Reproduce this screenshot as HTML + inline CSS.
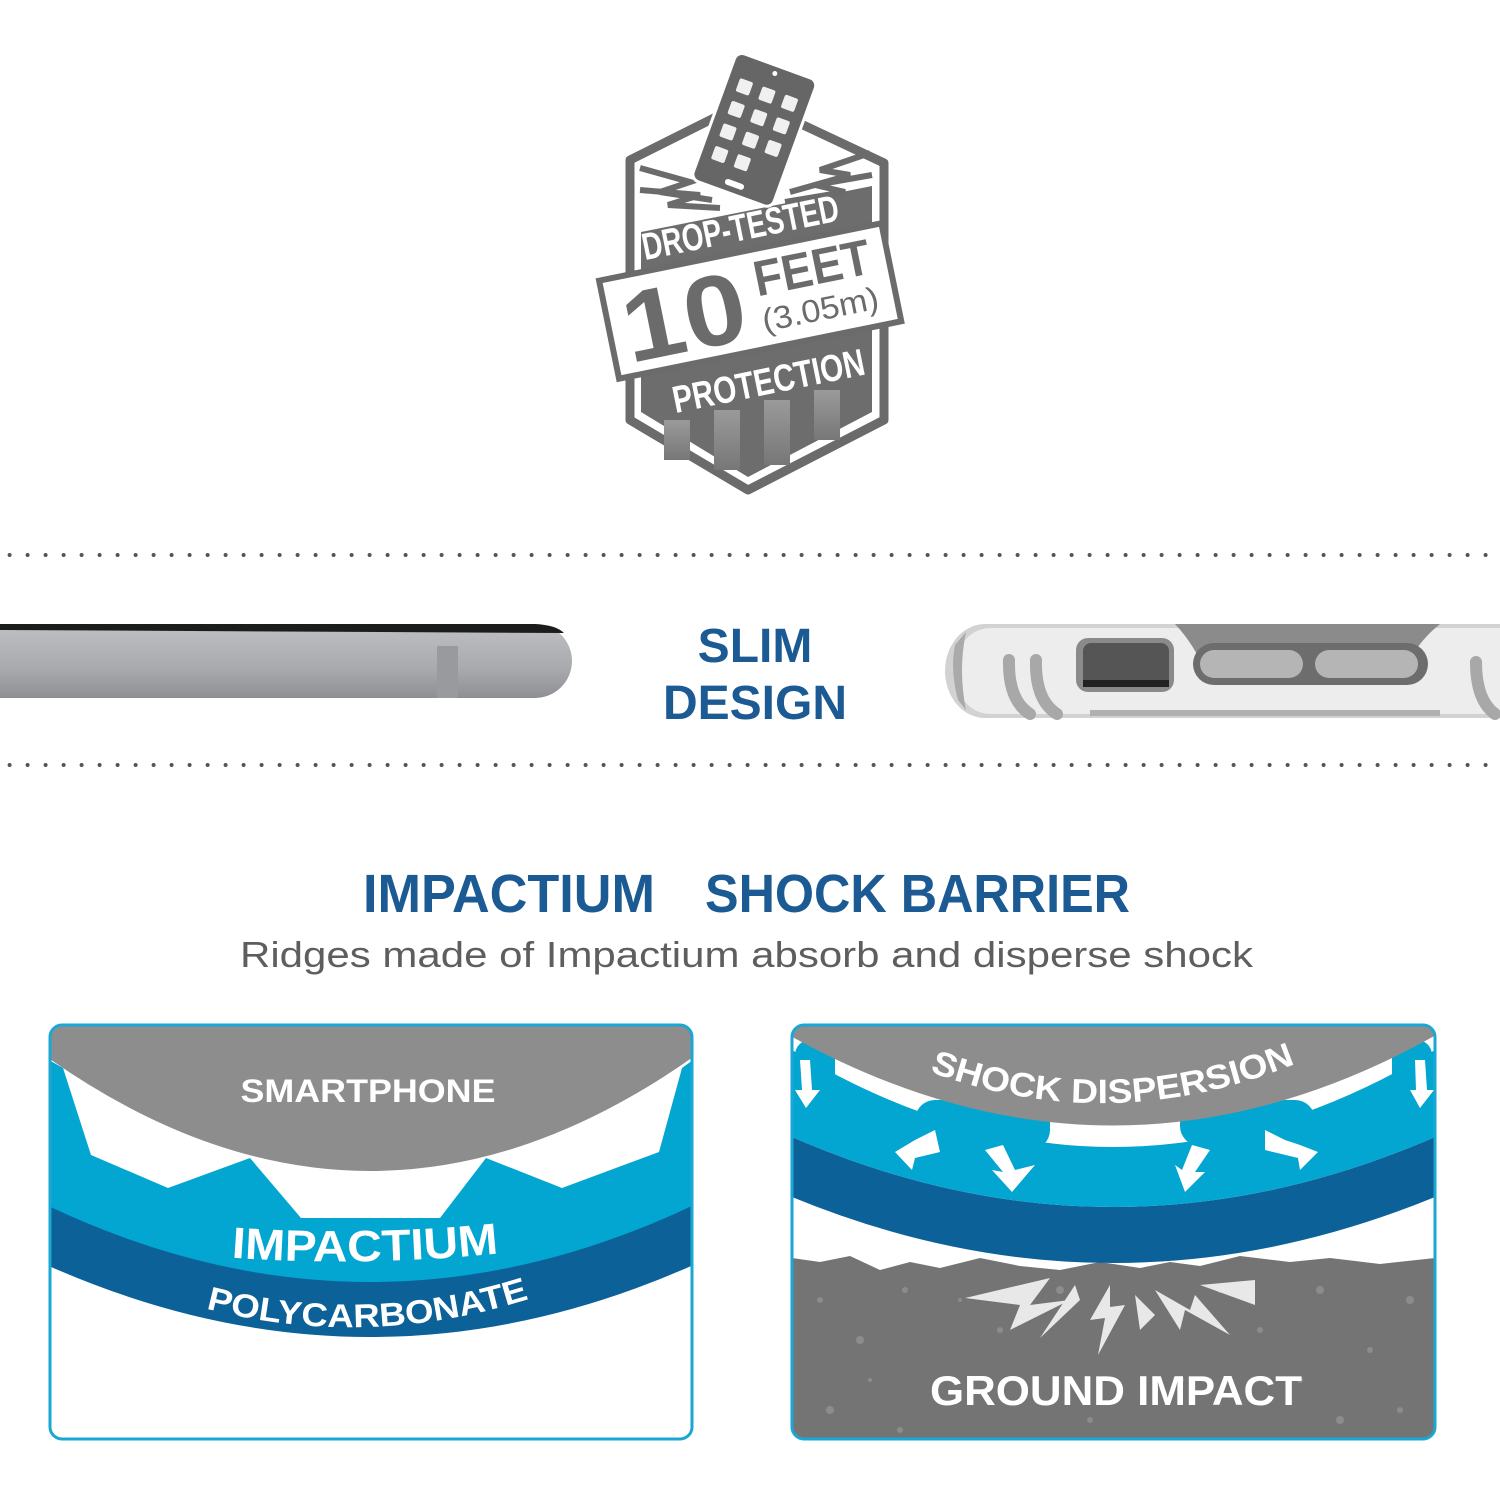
<!DOCTYPE html>
<html><head><meta charset="utf-8"><style>html,body{margin:0;padding:0;background:#fff}svg{display:block}</style></head>
<body>
<svg width="1500" height="1500" viewBox="0 0 1500 1500" xmlns="http://www.w3.org/2000/svg" font-family="Liberation Sans, sans-serif">
<defs>
<linearGradient id="phg" x1="0" y1="0" x2="0" y2="1"><stop offset="0" stop-color="#bfc0c4"/><stop offset="0.6" stop-color="#a9aaae"/><stop offset="1" stop-color="#8e8f93"/></linearGradient>
<pattern id="dots" width="18" height="10" patternUnits="userSpaceOnUse"><circle cx="9.6" cy="5" r="2" fill="#555"/></pattern>
<clipPath id="lp"><rect x="50" y="1025" width="642" height="414" rx="12"/></clipPath>
<clipPath id="rp"><rect x="792" y="1025" width="643" height="414" rx="12"/></clipPath>
<linearGradient id="stp" x1="0" y1="0" x2="0" y2="1"><stop offset="0" stop-color="#9a9a9a"/><stop offset="1" stop-color="#777"/></linearGradient>
</defs>

<!-- BADGE -->
<polygon points="630,160 750,100 884,163 884,420 748,490 630,420" fill="#fff" stroke="#6b6b6b" stroke-width="9" stroke-linejoin="round"/>
<polygon points="641,232 872,186 872,412 748,477 641,412" fill="#6d6d6d"/>
<g fill="url(#stp)">
<rect x="664" y="420" width="26" height="40"/><rect x="714" y="410" width="26" height="60"/><rect x="764" y="400" width="26" height="65"/><rect x="814" y="390" width="26" height="50"/>
</g>
<g fill="none" stroke="#6b6b6b" stroke-width="6" stroke-linejoin="miter">
<polyline points="640,168 690,182 660,192 712,200"/>
<polyline points="640,190 700,195 668,205 720,208"/>
<polyline points="870,153 820,170 850,175 790,192"/>
<polyline points="872,175 815,185 845,192 785,202"/>
</g>
<g transform="rotate(20 755 128)">
<rect x="712" y="62" width="86" height="136" rx="8" fill="#666" stroke="#fff" stroke-width="3"/>
<circle cx="755" cy="70" r="2.5" fill="#fff"/>
<rect x="745" y="185" width="20" height="6" rx="3" fill="#fff"/>
<g fill="#fff" opacity="0.9">
<rect x="724" y="86" width="14" height="14" rx="2"/><rect x="748" y="86" width="14" height="14" rx="2"/><rect x="772" y="86" width="14" height="14" rx="2"/>
<rect x="724" y="110" width="14" height="14" rx="2"/><rect x="748" y="110" width="14" height="14" rx="2"/><rect x="772" y="110" width="14" height="14" rx="2"/>
<rect x="724" y="134" width="14" height="14" rx="2"/><rect x="748" y="134" width="14" height="14" rx="2"/><rect x="772" y="134" width="14" height="14" rx="2"/>
<rect x="724" y="158" width="14" height="14" rx="2"/><rect x="748" y="158" width="14" height="14" rx="2"/>
</g>
</g>
<g transform="rotate(-11.5 750 300)">
<text x="755" y="240" text-anchor="middle" font-size="38" font-weight="bold" fill="#fff" textLength="200" lengthAdjust="spacingAndGlyphs">DROP-TESTED</text>
<rect x="606" y="251" width="288" height="100" fill="#fff" stroke="#6b6b6b" stroke-width="6"/>
<text x="620" y="338" font-size="100" font-weight="bold" fill="#6b6b6b" textLength="124" lengthAdjust="spacingAndGlyphs">10</text>
<text x="758" y="298" font-size="50" font-weight="bold" fill="#6b6b6b" textLength="118" lengthAdjust="spacingAndGlyphs">FEET</text>
<text x="758" y="334" font-size="32" fill="#6b6b6b" textLength="118" lengthAdjust="spacingAndGlyphs">(3.05m)</text>
<text x="752" y="396" text-anchor="middle" font-size="38" font-weight="bold" fill="#fff" textLength="195" lengthAdjust="spacingAndGlyphs">PROTECTION</text>
</g>

<rect x="0" y="550" width="1500" height="10" fill="url(#dots)"/>
<rect x="0" y="763" width="1500" height="10" fill="url(#dots)"/>

<path d="M0,624 L535,624 A37,37 0 0 1 535,698 L0,698 Z" fill="url(#phg)"/>
<path d="M0,624 L535,624 Q556,625 564,633 L0,630 Z" fill="#1c1c1c"/>
<rect x="437" y="646" width="21" height="52" fill="#999a9e"/>

<text x="755" y="662" text-anchor="middle" font-size="48" font-weight="bold" fill="#1b5a92">SLIM</text>
<text x="755" y="719" text-anchor="middle" font-size="48" font-weight="bold" fill="#1b5a92">DESIGN</text>

<path d="M985,624 L1500,624 L1500,718 L985,718 A40,47 0 0 1 985,624 Z" fill="#d2d2d2"/>
<path d="M990,628 L1500,628 L1500,714 L990,714 A36,43 0 0 1 990,628 Z" fill="#ededed"/>
<path d="M1175,624 L1440,624 Q1420,640 1410,660 L1200,660 Q1190,640 1175,624 Z" fill="#8b8b8b"/>
<rect x="1076" y="638" width="98" height="54" rx="12" fill="#8a8a8a"/>
<rect x="1083" y="643" width="86" height="44" rx="8" fill="#555"/>
<rect x="1083" y="680" width="86" height="7" fill="#222"/>
<rect x="1193" y="643" width="235" height="42" rx="21" fill="#6d6d6d"/>
<rect x="1200" y="650" width="103" height="28" rx="14" fill="#b5b5b5"/>
<rect x="1315" y="650" width="103" height="28" rx="14" fill="#b5b5b5"/>
<g fill="none" stroke="#a8a8a8" stroke-width="12" stroke-linecap="round">
<path d="M1009,660 Q1008,700 1030,714"/><path d="M1036,660 Q1035,700 1057,714"/><path d="M1476,662 Q1476,700 1495,714"/>
</g>
<path d="M955,645 Q950,670 958,700 L966,710 Q958,670 966,632 Z" fill="#aaa"/>
<rect x="1090" y="710" width="350" height="6" fill="#b0b0b0"/>

<text x="363" y="912" font-size="54" font-weight="bold" fill="#1b5a92" textLength="292" lengthAdjust="spacingAndGlyphs">IMPACTIUM</text>
<text x="705" y="912" font-size="54" font-weight="bold" fill="#1b5a92" textLength="425" lengthAdjust="spacingAndGlyphs">SHOCK BARRIER</text>
<text x="240" y="967" font-size="36" fill="#5e5e5e" textLength="1013" lengthAdjust="spacingAndGlyphs">Ridges made of Impactium absorb and disperse shock</text>

<!-- LEFT PANEL -->
<g clip-path="url(#lp)">
<rect x="50" y="1025" width="642" height="414" fill="#fff"/>
<path d="M40,1200 Q370,1362 700,1200 L700,1262 Q370,1412 40,1262 Z" fill="#0b6198"/>
<path d="M40,1055 L63,1068 L91,1155 L168,1188 L250,1158 L301,1218 L440,1218 L486,1158 L562,1188 L659,1152 L682,1068 L700,1055 L700,1202 Q370,1362 40,1202 Z" fill="#03a6d0"/>
<path d="M40,1020 L700,1020 L700,1052 Q370,1290 40,1052 Z" fill="#8d8d8d"/>
</g>
<rect x="50" y="1025" width="642" height="414" rx="12" fill="none" stroke="#1aa7d4" stroke-width="3"/>
<text x="368" y="1102" text-anchor="middle" font-size="32" font-weight="bold" fill="#fff" textLength="255" lengthAdjust="spacingAndGlyphs">SMARTPHONE</text>
<path id="ip" d="M200,1255 Q362,1270 530,1250" fill="none"/>
<text font-size="44" font-weight="bold" fill="#fff"><textPath href="#ip" startOffset="50%" text-anchor="middle" textLength="268" lengthAdjust="spacingAndGlyphs">IMPACTIUM</textPath></text>
<path id="pp" d="M200,1307 Q366,1352 535,1297" fill="none"/>
<text font-size="33" font-weight="bold" fill="#fff"><textPath href="#pp" startOffset="50%" text-anchor="middle" textLength="328" lengthAdjust="spacingAndGlyphs">POLYCARBONATE</textPath></text>

<!-- RIGHT PANEL -->
<g clip-path="url(#rp)">
<rect x="792" y="1025" width="643" height="414" fill="#fff"/>
<path d="M792,1258 L820,1262 L850,1256 L880,1270 L910,1262 L940,1268 L980,1258 L1020,1266 L1060,1270 L1100,1262 L1140,1268 L1170,1262 L1200,1266 L1240,1256 L1290,1262 L1330,1258 L1380,1264 L1435,1258 L1435,1440 L792,1440 Z" fill="#747474"/>
<g fill="#8c8c8c">
<circle cx="820" cy="1300" r="3"/><circle cx="860" cy="1340" r="4"/><circle cx="905" cy="1290" r="3"/><circle cx="940" cy="1380" r="3"/><circle cx="830" cy="1410" r="4"/><circle cx="1000" cy="1330" r="3"/><circle cx="1060" cy="1290" r="4"/><circle cx="1090" cy="1420" r="3"/><circle cx="1180" cy="1380" r="4"/><circle cx="1260" cy="1330" r="3"/><circle cx="1320" cy="1290" r="4"/><circle cx="1370" cy="1350" r="3"/><circle cx="1410" cy="1300" r="4"/><circle cx="1400" cy="1410" r="3"/><circle cx="1340" cy="1420" r="4"/><circle cx="900" cy="1430" r="3"/><circle cx="960" cy="1300" r="2"/><circle cx="1220" cy="1290" r="3"/><circle cx="870" cy="1380" r="2"/><circle cx="1300" cy="1380" r="3"/>
</g>
<path d="M792,1137 Q1113,1277 1435,1137 L1435,1197 Q1113,1329 792,1197 Z" fill="#0b6198"/>
<path d="M792,1050 Q1113,1244 1435,1050 L1435,1137 Q1113,1277 792,1137 Z" fill="#03a6d0"/>
<rect x="915" y="1100" width="135" height="50" rx="20" fill="#03a6d0"/>
<rect x="1180" y="1100" width="135" height="46" rx="20" fill="#03a6d0"/>
<rect x="795" y="1040" width="40" height="60" rx="15" fill="#03a6d0"/>
<rect x="1392" y="1040" width="40" height="60" rx="15" fill="#03a6d0"/>
<path d="M780,1020 L1445,1020 L1445,1030 Q1113,1221 780,1030 Z" fill="#8d8d8d"/>
<g fill="#fff">
<polygon points="935,1130 915,1140 895,1152 912,1170 915,1158 940,1152"/>
<polygon points="985,1150 1003,1145 1015,1170 1035,1165 1012,1192 992,1170 1003,1172"/>
<polygon points="1210,1150 1192,1145 1182,1170 1175,1165 1185,1192 1205,1172 1195,1172"/>
<polygon points="1265,1130 1285,1140 1300,1145 1318,1152 1300,1170 1298,1158 1265,1150"/>
<polygon points="800,1060 810,1060 812,1090 820,1090 806,1108 795,1090 802,1090"/>
<polygon points="1415,1060 1425,1060 1427,1090 1434,1090 1420,1108 1410,1090 1416,1090"/>
</g>
<g fill="#e8e8e8">
<polygon points="965,1298 1050,1278 1030,1305 1070,1300 1010,1330 1020,1305"/>
<polygon points="1075,1285 1040,1338 1080,1300"/>
<polygon points="1110,1285 1090,1320 1105,1318 1098,1355 1125,1305 1110,1307"/>
<polygon points="1135,1295 1140,1330 1155,1315"/>
<polygon points="1155,1290 1180,1330 1185,1310 1230,1335 1195,1295 1190,1310"/>
<polygon points="1200,1285 1255,1280 1255,1305"/>
</g>
</g>
<rect x="792" y="1025" width="643" height="414" rx="12" fill="none" stroke="#1aa7d4" stroke-width="3"/>
<path id="sp" d="M925,1070 Q1110,1140 1300,1062" fill="none"/>
<text font-size="34" font-weight="bold" fill="#fff"><textPath href="#sp" startOffset="50%" text-anchor="middle" textLength="375" lengthAdjust="spacingAndGlyphs">SHOCK DISPERSION</textPath></text>
<text x="1116" y="1405" text-anchor="middle" font-size="42" font-weight="bold" fill="#fff" textLength="372" lengthAdjust="spacingAndGlyphs">GROUND IMPACT</text>
</svg>
</body></html>
